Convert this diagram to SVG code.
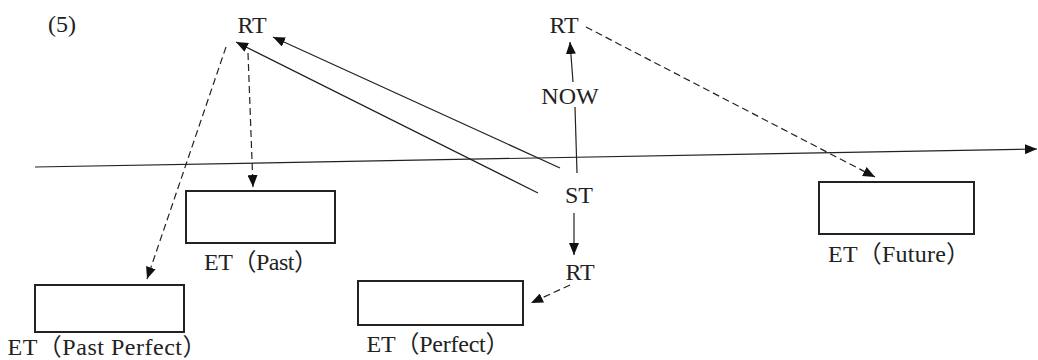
<svg xmlns="http://www.w3.org/2000/svg" width="1038" height="360" viewBox="0 0 1038 360">
<style>
text{font-family:"Liberation Serif","Noto Sans CJK JP",serif;font-size:24px;fill:#222;text-anchor:middle}
.box{fill:#fff;stroke:#222;stroke-width:2}
.ln{fill:none;stroke:#222;stroke-width:1.2}
.dash{stroke-dasharray:7 4}
</style>
<defs>
<marker id="ah" viewBox="0 0 12 10" refX="12" refY="5" markerWidth="12" markerHeight="10" markerUnits="userSpaceOnUse" orient="auto">
<path d="M0,0 L12,5 L0,10 z" fill="#111"/>
</marker>
</defs>
<rect width="1038" height="360" fill="#fff"/>
<text x="62" y="32">(5)</text>
<g id="connectors">
<line class="ln" x1="35" y1="167" x2="1037" y2="149" marker-end="url(#ah)"/>
<line class="ln" x1="560" y1="168" x2="273" y2="37" marker-end="url(#ah)"/>
<line class="ln" x1="538" y1="193" x2="236" y2="42" marker-end="url(#ah)"/>
<line class="ln" x1="577" y1="173" x2="575" y2="107"/>
<line class="ln" x1="573" y1="82" x2="570" y2="42" marker-end="url(#ah)"/>
<line class="ln" x1="574" y1="213" x2="574" y2="255" marker-end="url(#ah)"/>
<line class="ln dash" x1="586" y1="27" x2="875" y2="177" marker-end="url(#ah)"/>
<line class="ln dash" x1="248" y1="53" x2="253" y2="187" marker-end="url(#ah)"/>
<line class="ln dash" x1="226" y1="47" x2="147" y2="279" marker-end="url(#ah)"/>
<line class="ln dash" x1="570" y1="285" x2="531" y2="303" marker-end="url(#ah)"/>
</g>
<g id="rt-past"><text x="252" y="33">RT</text></g>
<g id="rt-future"><text x="564" y="33">RT</text></g>
<g id="now"><text x="570" y="104">NOW</text></g>
<g id="st"><text x="579" y="203">ST</text></g>
<g id="rt-perfect"><text x="580" y="280">RT</text></g>
<g id="et-past"><rect class="box" x="186" y="191" width="149" height="52"/><text x="261" y="270" textLength="114" lengthAdjust="spacing">ET（Past）</text></g>
<g id="et-pastperfect"><rect class="box" x="35" y="285" width="149" height="47"/><text x="107" y="355" textLength="199" lengthAdjust="spacing">ET（Past Perfect）</text></g>
<g id="et-perfect"><rect class="box" x="358" y="281" width="165" height="44"/><text x="438" y="352" textLength="143" lengthAdjust="spacing">ET（Perfect）</text></g>
<g id="et-future"><rect class="box" x="819" y="182" width="155" height="52"/><text x="899" y="262" textLength="142" lengthAdjust="spacing">ET（Future）</text></g>
</svg>
